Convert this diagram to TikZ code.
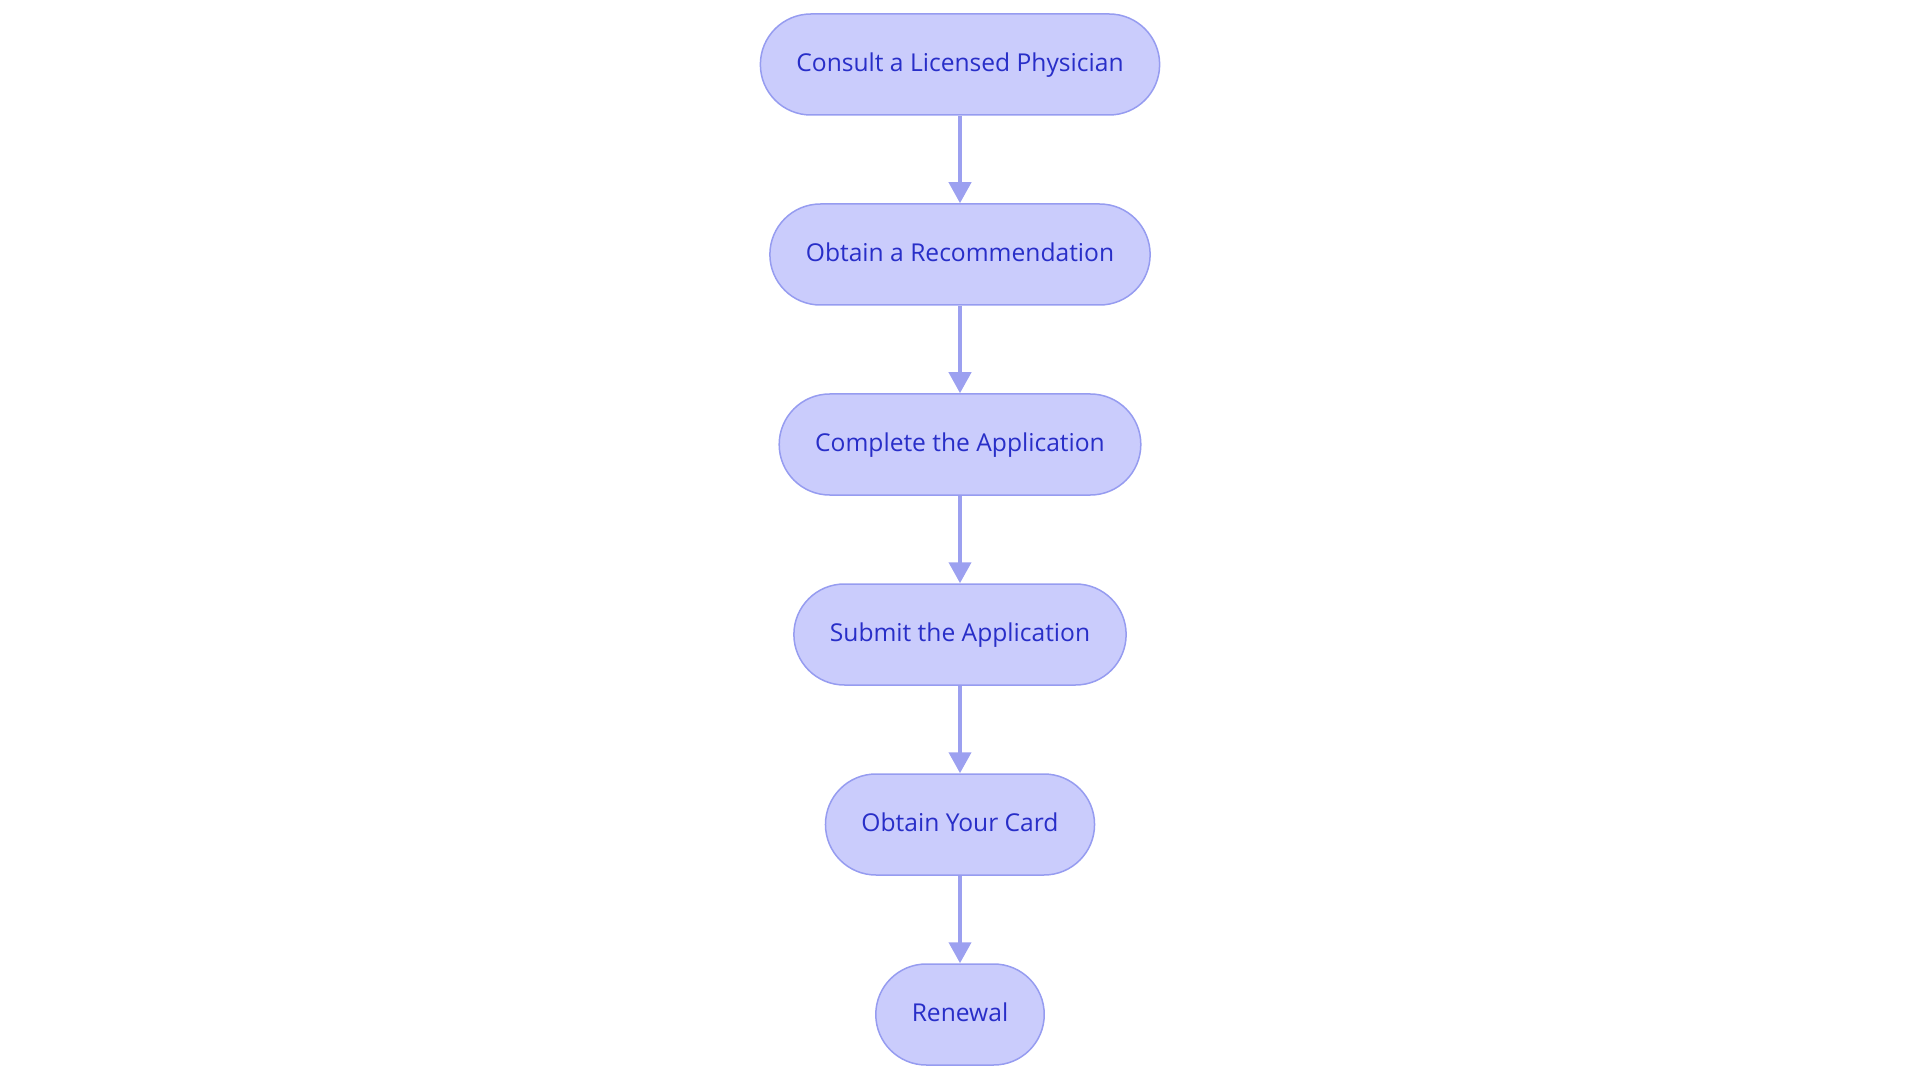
\documentclass[tikz,border=0pt]{standalone}
\usepackage{fontspec}
\setmainfont{Open Sans}
\usetikzlibrary{positioning,arrows.meta}
\definecolor{stagefill}{RGB}{202,204,252}
\definecolor{stageline}{RGB}{150,156,240}
\definecolor{stagetext}{RGB}{40,46,200}
\definecolor{flowline}{RGB}{156,160,240}

\begin{document}
\begin{tikzpicture}[x=0.5pt,y=0.5pt,
    stage/.style={draw=stageline, line width=0.75pt, fill=stagefill, text=stagetext,
        rounded corners=25.25pt, minimum height=50.5pt, inner xsep=18pt,
        text height=9.5pt, text depth=2.6pt,
        font=\fontsize{12.3}{15}\selectfont},
    flow/.style={draw=flowline, line width=2pt, -{Triangle[width=11pt,length=10.5pt]}},
    node distance=43.75pt]
    \useasboundingbox (0,0) rectangle (1920,1083);
    \node[stage] (consult) at (960,1018.5) {Consult a Licensed Physician};
    \node[stage, below=of consult] (recommend) {Obtain a Recommendation};
    \node[stage, below=of recommend] (complete) {Complete the Application};
    \node[stage, below=of complete] (submit) {Submit the Application};
    \node[stage, below=of submit] (card) {Obtain Your Card};
    \node[stage, below=of card] (renewal) {Renewal};
    \foreach \from/\to in {consult/recommend, recommend/complete, complete/submit,
        submit/card, card/renewal}
        \draw[flow] (\from) -- (\to);
\end{tikzpicture}
\end{document}
